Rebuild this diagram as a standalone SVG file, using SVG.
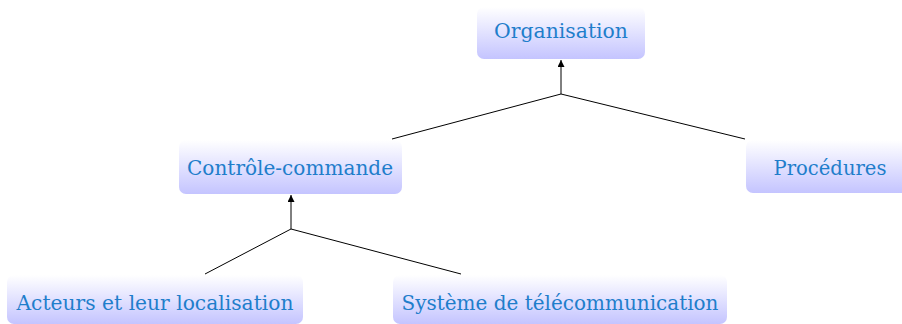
<svg xmlns="http://www.w3.org/2000/svg" width="902" height="324" viewBox="0 0 902 324">
<defs>
<linearGradient id="g" x1="0" y1="0" x2="0" y2="1">
<stop offset="0" stop-color="#ffffff"/>
<stop offset="1" stop-color="#c4c4ff"/>
</linearGradient>
<marker id="ah" viewBox="0 0 10 10" refX="10" refY="5" markerWidth="7" markerHeight="7" markerUnits="userSpaceOnUse" orient="auto">
<path d="M0,0 L10,5 L0,10 Z" fill="#000"/>
</marker>
<style>
.box{fill:url(#g);stroke:none}
.lbl{font-family:"DejaVu Serif","Liberation Serif",serif;font-size:20px;fill:#1f7ecb;text-anchor:middle}
.c{stroke:#000;stroke-width:1;fill:none}
</style>
</defs>
<g id="connectors">
<line class="c" x1="561" y1="94" x2="392" y2="139"/>
<line class="c" x1="561" y1="94" x2="745" y2="139"/>
<line class="c" x1="561" y1="94" x2="561" y2="60" marker-end="url(#ah)"/>
<line class="c" x1="291" y1="229" x2="205" y2="274"/>
<line class="c" x1="291" y1="229" x2="461" y2="274"/>
<line class="c" x1="291" y1="229" x2="291" y2="195" marker-end="url(#ah)"/>
</g>
<g id="organisation">
<rect class="box" x="477" y="7" width="168" height="52" rx="7"/>
<text class="lbl" x="561" y="38" textLength="134" lengthAdjust="spacingAndGlyphs">Organisation</text>
</g>
<g id="controle">
<rect class="box" x="179" y="140" width="223" height="54" rx="7"/>
<text class="lbl" x="290" y="175" textLength="206" lengthAdjust="spacingAndGlyphs">Contrôle-commande</text>
</g>
<g id="procedures">
<rect class="box" x="746" y="140" width="169" height="53" rx="7"/>
<text class="lbl" x="830" y="175" textLength="113" lengthAdjust="spacingAndGlyphs">Procédures</text>
</g>
<g id="acteurs">
<rect class="box" x="7" y="275" width="296" height="49" rx="7"/>
<text class="lbl" x="155" y="310" textLength="277" lengthAdjust="spacingAndGlyphs">Acteurs et leur localisation</text>
</g>
<g id="systeme">
<rect class="box" x="393" y="275" width="334" height="49" rx="7"/>
<text class="lbl" x="560" y="310" textLength="317" lengthAdjust="spacingAndGlyphs">Système de télécommunication</text>
</g>
</svg>
